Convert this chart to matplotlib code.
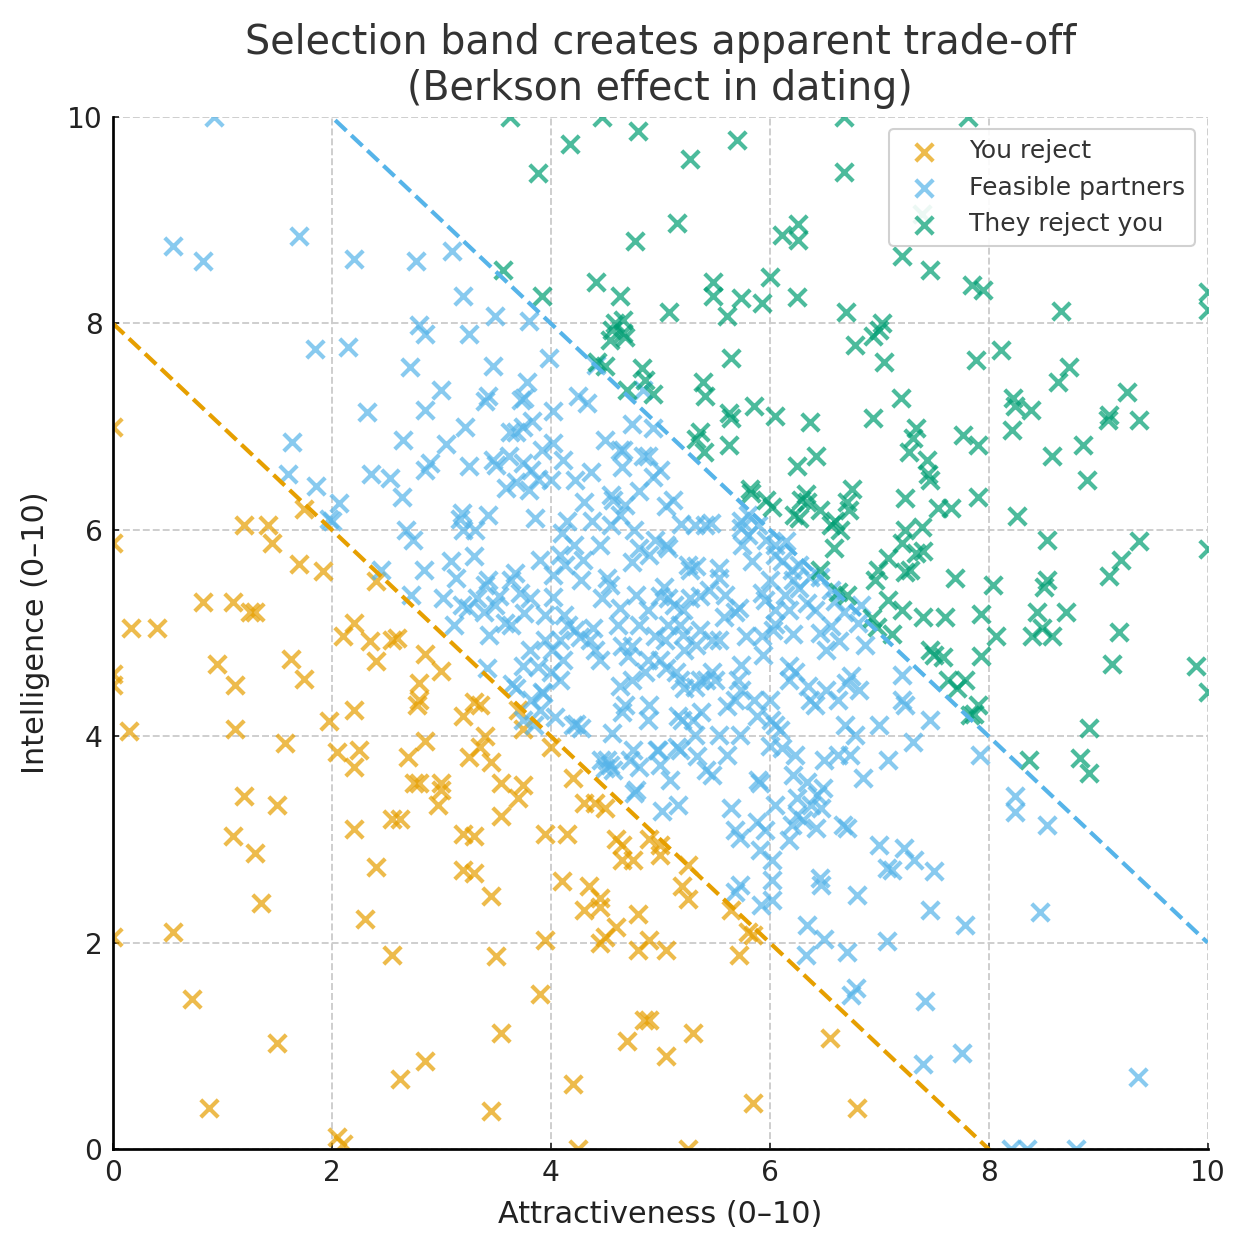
import matplotlib
matplotlib.use("Agg")
import matplotlib.pyplot as plt
import numpy as np

# ---- data ----
reject_x = [0.0, 0.0, 0.0, 0.0, 0.15, 0.0, 0.17, 0.4, 0.55, 0.72, 0.82, 0.88, 0.95, 1.1, 1.12, 1.12,
            1.1, 1.2, 1.2, 1.25, 1.3, 1.3, 1.35, 1.42, 1.45, 1.5, 1.5, 1.57, 1.63, 1.7, 1.75, 1.75,
            1.92, 1.97, 2.05, 2.05, 2.1, 2.1, 2.2, 2.2, 2.2, 2.2, 2.25, 2.3, 2.35, 2.4, 2.4, 2.4,
            2.55, 2.6, 2.55, 2.62, 2.55, 2.62, 2.7, 2.75, 2.8, 2.8, 2.78, 2.8, 2.85, 2.85, 2.85,
            2.97, 3.0, 3.0, 3.0, 3.2, 3.2, 3.2, 3.3, 3.3, 3.25, 3.3, 3.35, 3.35, 3.4, 3.45, 3.45,
            3.45, 3.5, 3.55, 3.55, 3.55, 3.7, 3.7, 3.75, 3.75, 3.9, 3.95, 3.95, 4.0, 4.1, 4.15,
            4.2, 4.2, 4.25, 4.3, 4.3, 4.4, 4.35, 4.45, 4.45, 4.45, 4.5, 4.5, 4.6, 4.65, 4.6, 4.65,
            4.7, 4.75, 4.8, 4.8, 4.9, 4.9, 4.85, 4.9, 5.0, 5.0, 5.05, 5.05, 5.2, 5.25, 5.25, 5.3,
            5.25, 5.65, 5.72, 5.8, 5.85, 5.85, 6.55, 6.8]
reject_y = [7.0, 5.87, 4.6, 4.5, 4.05, 2.05, 5.05, 5.05, 2.1, 1.45, 5.3, 0.4, 4.7, 5.3, 4.5, 4.07,
            3.03, 3.42, 6.05, 5.2, 5.2, 2.87, 2.38, 6.05, 5.87, 3.33, 1.03, 3.93, 4.75, 5.67, 4.55, 6.2,
            5.6, 4.15, 3.85, 0.12, 0.05, 4.97, 5.1, 4.25, 3.1, 3.7, 3.87, 2.23, 4.92, 4.73, 5.5, 2.73,
            4.93, 4.95, 3.2, 3.2, 1.88, 0.68, 3.8, 3.55, 3.55, 4.52, 4.3, 4.35, 3.95, 4.8, 0.85,
            3.33, 4.63, 3.48, 3.55, 4.2, 3.05, 2.7, 3.03, 2.67, 3.8, 4.33, 4.3, 3.9, 4.0, 3.75, 2.45,
            0.37, 1.87, 1.12, 3.55, 3.23, 3.4, 4.25, 3.53, 4.07, 1.5, 2.03, 3.05, 3.9, 2.6, 3.05,
            3.6, 0.63, 0.0, 2.32, 3.35, 3.35, 2.55, 2.43, 2.35, 2.0, 2.05, 3.3, 3.0, 2.8, 2.15, 2.95,
            1.05, 2.8, 2.28, 1.93, 2.03, 3.0, 1.25, 1.25, 2.95, 2.85, 1.93, 0.9, 2.55, 2.75, 2.42, 1.12,
            0.0, 2.32, 1.88, 2.1, 2.07, 0.45, 1.08, 0.4]

feasible_x = [0.92, 0.55, 0.82, 1.7, 2.2, 1.85, 2.15, 2.77, 3.1, 3.2, 3.49, 2.8, 2.85, 3.25, 3.8,
              2.32, 2.71, 3.0, 2.85, 3.47, 3.43, 3.4, 3.73, 3.76, 3.78, 3.98, 4.02, 4.25, 4.33, 4.41,
              3.22, 3.68, 3.75, 3.83, 3.92, 4.02, 1.64, 2.65, 3.04, 2.36, 2.53, 2.85, 2.9, 2.64,
              1.6, 1.86, 2.07, 1.97, 2.68, 2.74, 2.45, 2.72, 2.84, 3.02, 3.09, 3.19, 3.17, 3.25, 3.2,
              3.31, 3.43, 3.47, 3.5, 3.62, 3.59, 3.68, 3.8, 3.75, 3.82, 3.88, 3.86, 4.0, 4.11, 4.22,
              4.3, 4.37, 4.5, 4.63, 4.65, 4.84, 4.89, 4.93, 4.74, 4.84, 4.38, 4.55, 4.57, 4.68, 4.81,
              4.93, 5.0, 5.05, 5.12, 5.05, 5.07, 5.19, 5.32, 5.41, 5.46, 5.25, 5.27, 5.33, 5.54, 5.54,
              5.74, 5.8, 5.74, 5.89, 5.8, 5.75, 5.84, 5.97, 6.05, 6.05, 6.11, 6.15, 6.2, 6.27, 6.37,
              6.46, 6.34, 6.41, 6.56, 6.6, 6.68, 6.56, 6.63, 6.83, 6.81, 6.87, 6.74, 6.82, 6.7, 6.62,
              6.69, 6.78, 7.0, 7.21, 7.24, 7.21, 7.08, 7.31, 7.46, 6.85, 7.0, 7.07, 7.12, 7.07, 6.8,
              7.23, 7.32, 7.5, 7.46, 7.78, 7.92, 7.42, 7.4, 7.76, 9.36, 8.2, 8.35, 8.8, 8.24, 8.24,
              8.53, 8.47,
              6.01, 6.05, 6.09, 6.0, 6.11, 6.23, 6.21, 6.34, 5.89, 5.91, 5.88, 5.96, 5.68, 5.73, 5.65,
              5.91, 6.02, 6.02, 6.02, 5.92, 5.68, 5.73, 6.18, 6.2, 6.25, 6.3, 6.38, 6.43, 6.49, 6.47,
              6.42, 6.67, 6.71, 6.46, 6.47, 6.34, 6.33, 6.5, 6.71, 6.74, 6.79, 6.62, 6.73, 6.5, 6.05,
              6.25, 6.0, 6.18, 6.23, 6.18, 6.37, 6.41, 6.35, 6.51, 6.51, 6.46, 6.21, 6.05, 6.05, 6.03,
              5.94, 5.96, 5.93, 5.72, 5.68, 5.78, 5.74, 5.71, 5.74, 5.68, 5.61, 5.54, 5.58, 5.5, 5.42,
              5.36, 5.47, 5.32, 5.37, 5.32, 5.42, 5.47, 5.34, 5.18, 5.09, 5.0, 4.98, 4.89, 4.75, 4.76,
              4.54, 4.5, 4.51, 4.56, 4.65, 4.68, 4.74, 4.63, 4.71, 4.65, 4.61, 4.63, 4.54, 4.51, 4.47,
              4.45, 4.55, 4.39, 4.4, 4.45, 4.36, 4.27, 4.22, 4.16, 4.12, 4.08, 4.11, 4.01, 3.95, 4.0,
              3.93, 3.85, 3.9, 3.81, 3.75, 3.68, 3.95, 4.02, 4.02, 4.08, 4.13, 4.1, 4.15, 4.21, 4.29,
              4.28, 3.9, 3.81, 3.76, 3.72, 3.58, 3.64, 3.67, 3.64, 3.53, 3.49, 3.43, 3.39, 3.4, 3.33,
              3.3, 3.13, 3.19, 3.24, 3.12, 3.44, 3.65, 3.42, 3.75, 3.82, 5.0, 5.07, 5.13, 5.21, 5.03,
              5.07, 5.04, 4.95, 5.18, 5.21, 5.22, 5.18, 5.14, 5.22, 5.05, 5.0, 4.89, 4.86, 4.9, 4.74,
              4.81, 4.89, 4.78, 4.74, 4.81, 4.9, 4.95, 4.76, 4.63, 5.36, 5.45, 5.47, 5.36, 5.33, 5.59,
              5.27, 5.2, 5.16, 5.54, 5.61, 5.73, 5.86, 5.88, 5.93, 6.0, 6.14, 6.21, 6.27, 6.18,
              2.0, 4.23, 4.28, 3.92, 3.88, 4.08, 4.04, 4.2, 4.46, 4.57, 4.72, 4.81, 4.78, 5.02, 5.16,
              4.97, 5.15, 5.3, 4.66, 3.63]
feasible_y = [10.0, 8.75, 8.6, 8.85, 8.62, 7.75, 7.77, 8.6, 8.7, 8.27, 8.07, 7.98, 7.9, 7.9, 8.02,
              7.14, 7.58, 7.35, 7.16, 7.59, 7.3, 7.25, 7.26, 7.28, 7.43, 7.66, 7.15, 7.3, 7.23, 7.6,
              7.0, 6.95, 7.0, 7.05, 6.77, 6.84, 6.85, 6.87, 6.83, 6.54, 6.5, 6.58, 6.65, 6.32,
              6.54, 6.42, 6.26, 6.1, 6.0, 5.9, 5.61, 5.37, 5.61, 5.34, 5.7, 6.16, 6.1, 6.62, 6.0,
              6.0, 6.14, 6.68, 6.63, 6.72, 6.41, 6.46, 6.39, 6.65, 6.58, 6.49, 6.11, 6.48, 6.68, 6.48,
              6.27, 6.56, 6.87, 6.77, 6.61, 6.72, 6.72, 6.99, 7.03, 7.35, 6.09, 6.34, 6.29, 6.24, 6.38,
              6.51, 6.58, 6.23, 6.29, 5.85, 5.82, 6.06, 6.05, 6.05, 6.07, 5.66, 5.61, 5.65, 5.63, 5.53,
              6.09, 6.14, 6.02, 6.05, 5.95, 5.85, 5.7, 5.9, 5.85, 5.76, 5.7, 5.89, 5.61, 5.66, 5.54,
              5.54, 5.29, 5.22, 5.42, 5.31, 5.2, 5.07, 4.92, 5.27, 5.1, 4.88, 4.58, 4.45, 4.52, 4.35,
              4.11, 4.01, 4.11, 4.35, 4.3, 4.59, 3.77, 3.94, 4.16, 3.6, 2.95, 2.72, 2.7, 2.02, 2.46,
              2.92, 2.8, 2.69, 2.32, 2.17, 3.82, 1.43, 0.82, 0.93, 0.7, 0.0, 0.0, 0.0, 3.42, 3.27,
              3.14, 2.3,
              4.16, 4.11, 4.06, 3.91, 3.89, 3.82, 3.62, 3.56, 3.58, 3.55, 3.17, 3.09, 3.09, 3.01, 3.3,
              2.9, 2.8, 2.61, 2.41, 2.36, 2.49, 2.56, 2.99, 3.14, 3.24, 3.19, 3.33, 3.43, 3.5, 3.3,
              3.11, 3.14, 3.11, 2.63, 2.56, 2.17, 1.88, 2.04, 1.91, 1.49, 1.56, 3.82, 3.82, 3.77, 3.33,
              3.4, 4.35, 4.68, 4.62, 4.54, 4.35, 4.3, 4.49, 4.45, 4.84, 5.0, 4.99, 5.09, 5.22, 5.03,
              4.79, 5.32, 5.39, 5.24, 5.2, 4.97, 4.69, 4.54, 4.45, 4.35, 4.29, 4.93, 5.16, 4.54, 4.54,
              4.54, 4.62, 4.48, 4.23, 4.01, 3.67, 3.62, 3.81, 3.87, 3.58, 3.72, 3.87, 4.16, 3.87, 3.45,
              3.72, 3.69, 3.77, 4.03, 4.23, 4.3, 4.54, 4.49, 4.78, 4.87, 5.08, 5.24, 5.47, 5.53, 5.34,
              5.85, 6.05, 5.05, 4.84, 4.74, 4.93, 4.96, 5.03, 5.08, 5.17, 4.93, 4.74, 4.84, 4.93, 4.62,
              4.42, 4.11, 4.25, 4.84, 4.68, 4.47, 5.17, 5.35, 5.56, 5.76, 5.66, 5.97, 6.09, 5.85, 5.71,
              5.51, 5.71, 5.34, 5.19, 5.39, 5.1, 5.08, 5.58, 5.51, 5.36, 5.27, 5.51, 5.2, 5.47, 5.34,
              5.75, 5.53, 5.27, 5.24, 5.08, 4.98, 4.51, 4.66, 4.16, 4.35, 5.36, 5.34, 5.27, 5.22, 5.45,
              5.08, 4.93, 4.97, 5.08, 4.98, 4.84, 4.54, 4.62, 4.47, 4.66, 4.74, 4.74, 4.62, 4.3, 4.87,
              5.08, 5.22, 5.37, 5.69, 5.82, 5.76, 5.9, 6.0, 6.14, 5.36, 5.42, 4.93, 5.03, 4.88, 5.37,
              5.34, 4.16, 4.2, 4.01, 3.82, 4.01, 4.35, 4.2, 4.97, 5.51, 5.37, 5.51, 5.44, 5.22,
              6.09, 4.12, 4.08, 4.43, 4.67, 4.54, 4.19, 4.11, 3.77, 3.67, 3.77, 3.7, 3.48, 3.28, 3.33,
              3.87, 3.9, 4.16, 6.77, 6.95]

they_x = [3.63, 4.47, 4.18, 3.88, 4.8, 5.27, 5.7, 6.68, 6.68, 7.81, 5.15, 6.11, 6.26, 6.26, 7.39,
          7.46, 7.21, 6.25, 6.0, 5.93, 5.74, 5.48, 5.48, 5.61, 4.77, 4.41, 4.63, 3.92, 3.56, 5.08,
          4.59, 4.56, 4.66, 4.66, 4.54, 4.68, 4.42, 4.5, 4.83, 4.86, 4.93, 4.7, 5.36, 5.33, 5.4,
          5.41, 5.39, 5.63, 5.65, 5.65, 5.63, 5.86, 6.05, 5.82, 5.83, 5.97, 6.02, 6.37, 6.25, 6.42,
          6.33, 6.29, 6.34, 6.22, 6.27, 6.46, 6.56, 6.6, 6.64, 6.59, 6.72, 6.75, 6.71, 6.46, 6.62,
          6.71, 6.78, 6.7, 6.94, 7.03, 7.0, 7.04, 6.94, 7.2, 7.27, 7.31, 7.34, 7.44, 7.45, 7.46,
          7.24, 7.39, 7.54, 7.66, 7.24, 7.21, 7.34, 7.4, 7.28, 7.24, 7.08, 6.99, 6.96, 6.98, 6.93,
          7.08, 7.12, 7.21, 7.4, 7.46, 7.5, 7.58, 7.6, 7.69, 7.63, 7.71, 7.78, 7.83, 7.9, 7.87,
          7.77, 7.93, 7.93, 8.04, 7.9, 7.9, 7.88, 7.85, 7.95, 8.11, 8.22, 8.24, 8.21, 8.39, 8.26,
          8.58, 8.63, 8.73, 8.66, 8.86, 8.9, 8.53, 8.53, 8.51, 8.71, 8.44, 8.4, 8.49, 8.58, 8.07,
          8.37, 8.83, 8.92, 8.92, 9.09, 9.1, 9.26, 9.37, 9.37, 9.21, 9.1, 9.19, 9.13, 9.89, 10.0,
          10.0, 10.0, 10.0]
they_y = [10.0, 10.0, 9.74, 9.46, 9.86, 9.59, 9.78, 10.0, 9.47, 10.0, 8.97, 8.86, 8.96, 8.81, 9.06,
          8.52, 8.65, 8.26, 8.45, 8.2, 8.25, 8.4, 8.27, 8.07, 8.8, 8.4, 8.27, 8.27, 8.52, 8.11,
          8.0, 7.94, 8.03, 7.91, 7.84, 7.87, 7.63, 7.59, 7.57, 7.45, 7.32, 7.35, 6.95, 6.88, 6.75,
          7.3, 7.43, 7.13, 7.08, 7.66, 6.82, 7.2, 7.1, 6.4, 6.36, 6.29, 6.22, 7.04, 6.62, 6.72,
          6.35, 6.29, 6.27, 6.14, 6.11, 6.19, 6.05, 6.09, 6.0, 5.82, 6.19, 6.4, 6.27, 5.61, 5.4,
          5.37, 7.79, 8.11, 7.88, 8.0, 7.94, 7.63, 7.08, 7.28, 6.75, 6.89, 6.99, 6.68, 6.54, 6.48,
          6.31, 6.03, 6.21, 6.21, 6.0, 5.87, 5.78, 5.79, 5.61, 5.59, 5.73, 5.61, 5.51, 5.06, 5.15,
          5.32, 4.99, 5.22, 5.16, 4.84, 4.79, 4.77, 5.16, 5.53, 4.54, 4.47, 4.54, 4.21, 4.3, 4.22,
          6.92, 5.18, 4.78, 5.47, 6.32, 6.82, 7.65, 8.37, 8.32, 7.74, 7.28, 7.2, 6.97, 7.16, 6.13,
          6.72, 7.43, 7.58, 8.12, 6.82, 6.48, 5.9, 5.51, 5.45, 5.2, 5.2, 4.97, 5.05, 4.97, 4.97,
          3.77, 3.79, 4.08, 3.64, 7.06, 7.11, 7.34, 7.06, 5.89, 5.71, 5.55, 5.01, 4.7, 4.68, 4.43,
          5.81, 8.3, 8.13]

group_labels = ["You reject", "Feasible partners", "They reject you"]
x_ticks = [0, 2, 4, 6, 8, 10]
y_ticks = [0, 2, 4, 6, 8, 10]
lower_threshold = 8    # x + y = 8
upper_threshold = 12   # x + y = 12

# ---- style ----
c_orange = "#E69F00"
c_blue = "#56B4E9"
c_green = "#009E73"

fig = plt.figure(figsize=(8.36, 8.36), dpi=150)
ax = fig.add_axes([0.090, 0.0837, 0.873, 0.823])

kw = dict(marker="x", s=70, linewidths=2.0, alpha=0.7)
ax.scatter(reject_x, reject_y, color=c_orange, label=group_labels[0], **kw)
ax.scatter(feasible_x, feasible_y, color=c_blue, label=group_labels[1], **kw)
ax.scatter(they_x, they_y, color=c_green, label=group_labels[2], **kw)

xs = np.array([0, 10])
ax.plot(xs, lower_threshold - xs, linestyle="--", color=c_orange, linewidth=2)
ax.plot(xs, upper_threshold - xs, linestyle="--", color=c_blue, linewidth=2)

ax.set_xlim(0, 10)
ax.set_ylim(0, 10)
ax.set_xticks(x_ticks)
ax.set_yticks(y_ticks)
ax.tick_params(labelsize=13.5, colors="#222222", direction="in", length=3, pad=5)
ax.grid(True, linestyle="--", color="#cccccc", linewidth=0.9)
ax.set_axisbelow(True)
for side in ("top", "right"):
    ax.spines[side].set_visible(False)
ax.spines["left"].set_linewidth(1.3)
ax.spines["bottom"].set_linewidth(1.3)

ax.set_xlabel("Attractiveness (0–10)", fontsize=14.5, color="#222222", labelpad=6)
ax.set_ylabel("Intelligence (0–10)", fontsize=14.5, color="#222222", labelpad=8)
ax.set_title("Selection band creates apparent trade-off\n(Berkson effect in dating)",
             fontsize=19, color="#333333", pad=8)

leg = ax.legend(loc="upper right", fontsize=12, scatterpoints=1, framealpha=0.9)
for t in leg.get_texts():
    t.set_color("#333333")

fig.savefig("out.png", dpi=150)
